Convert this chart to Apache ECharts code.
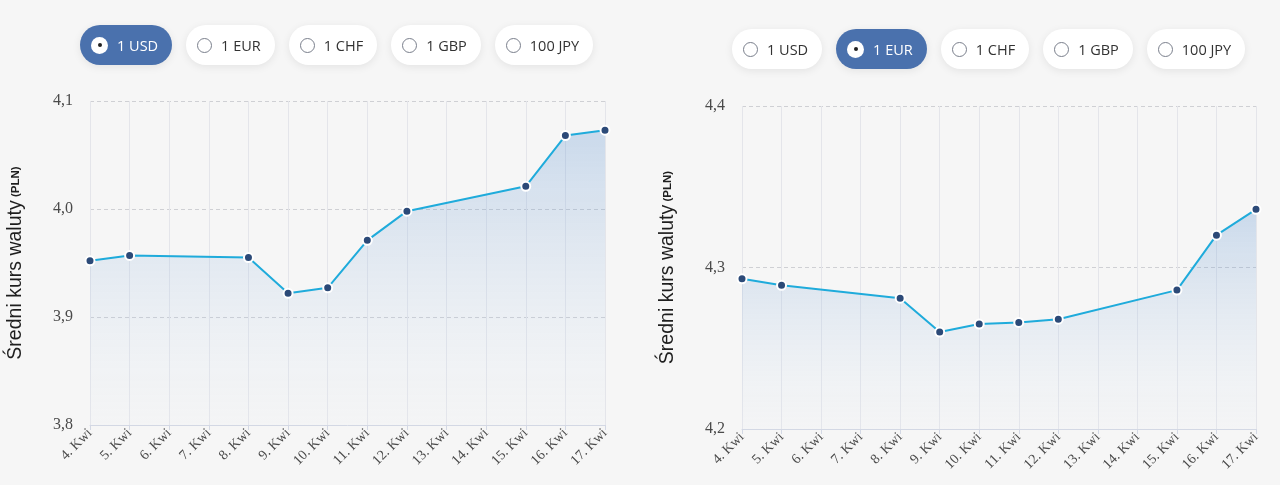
<!DOCTYPE html>
<html>
<head>
<meta charset="utf-8">
<script src="https://cdn.jsdelivr.net/npm/echarts@6/dist/echarts.min.js"></script>
<style>
  html, body { margin: 0; padding: 0; background: #f6f6f6; }
  #wrap { position: relative; width: 1280px; height: 485px; }
  #chart { position: absolute; left: 0; top: 0; width: 1280px; height: 485px; }
  .pills { position: absolute; display: flex; gap: 14px; z-index: 2; }
  .pill {
    height: 40px; border-radius: 20px; background: #fff;
    box-shadow: 0 2px 8px rgba(0, 0, 0, 0.08);
    display: inline-flex; align-items: center; padding: 0 14px 0 11px;
    font-family: "Open Sans", sans-serif; font-size: 14.5px; color: #333;
  }
  .pill .dot {
    width: 15px; height: 15px; border-radius: 50%; border: 1px solid #7a7f8c;
    margin-right: 9px; box-sizing: border-box; background: #fff; position: relative;
  }
  .pill.active { background: #4a71ad; color: #fff; }
  .pill.active .dot { width: 17px; height: 17px; border: none; }
  .pill.active .dot::after {
    content: ""; position: absolute; left: 6.5px; top: 6.5px; width: 4px; height: 4px;
    border-radius: 50%; background: #222;
  }
</style>
</head>
<body>
<div id="wrap">
  <div class="pills" id="pillsLeft" style="left:80px; top:25px;"></div>
  <div class="pills" id="pillsRight" style="left:732px; top:29px;"></div>
  <div id="chart"></div>
</div>
<script>
const currencies = ["1 USD", "1 EUR", "1 CHF", "1 GBP", "100 JPY"];
const days = ["4. Kwi", "5. Kwi", "6. Kwi", "7. Kwi", "8. Kwi", "9. Kwi", "10. Kwi",
  "11. Kwi", "12. Kwi", "13. Kwi", "14. Kwi", "15. Kwi", "16. Kwi", "17. Kwi"];
// weekends have no fixing -> null
const usdRates = [3.952, 3.957, null, null, 3.955, 3.922, 3.927, 3.971, 3.998, null, null, 4.021, 4.068, 4.073];
const eurRates = [4.293, 4.289, null, null, 4.281, 4.260, 4.265, 4.266, 4.268, null, null, 4.286, 4.320, 4.336];

const makePills = (id, active) => {
  const box = document.getElementById(id);
  currencies.forEach((c, i) => {
    const el = document.createElement("div");
    el.className = "pill" + (i === active ? " active" : "");
    el.innerHTML = '<span class="dot"></span><span>' + c + "</span>";
    box.appendChild(el);
  });
};
makePills("pillsLeft", 0);
makePills("pillsRight", 1);

const serif = "Liberation Serif";
const makeAxes = (idx, min, max) => {
  const xAxis = {
    type: "category",
    gridIndex: idx,
    data: days,
    boundaryGap: false,
    axisLine: { lineStyle: { color: "#d3d8e4", width: 1 } },
    axisTick: { show: true, length: 5, lineStyle: { color: "#d3d8e4" } },
    axisLabel: { rotate: 45, color: "#4a4a4a", fontFamily: serif, fontSize: 14, margin: 6, interval: 0 },
    splitLine: { show: true, lineStyle: { color: "#e4e5ea", width: 1 } },
  };
  const yAxis = {
    type: "value",
    gridIndex: idx,
    min: min,
    max: max,
    interval: 0.1,
    axisLine: { show: false },
    axisTick: { show: false },
    axisLabel: {
      color: "#4a4a4a", fontFamily: serif, fontSize: 16, margin: 17,
      formatter: (v) => v.toFixed(1).replace(".", ","),
    },
    splitLine: { lineStyle: { color: "#cfd0d4", type: [4, 3] } },
    name: "{a|Średni kurs waluty} {b|(PLN)}",
    nameLocation: "middle",
    nameRotate: 90,
    nameGap: 64,
    nameTextStyle: {
      rich: {
        a: { fontFamily: "Liberation Sans", fontSize: 19.5, color: "#1e1e1e" },
        b: { fontFamily: "Liberation Sans", fontSize: 11.5, fontWeight: "bold", color: "#1e1e1e" },
      },
    },
  };
  return { xAxis, yAxis };
};

const makeSeries = (idx, values) => ({
  type: "line",
  xAxisIndex: idx,
  yAxisIndex: idx,
  data: values,
  connectNulls: true,
  symbol: "circle",
  symbolSize: 9,
  lineStyle: { color: "#1fabdb", width: 2 },
  itemStyle: { color: "#2c4a78", borderColor: "#fff", borderWidth: 2 },
  areaStyle: {
    origin: "start",
    color: new echarts.graphic.LinearGradient(0, 0, 0, 1, [
      { offset: 0, color: "rgba(60, 125, 200, 0.34)" },
      { offset: 1, color: "rgba(225, 235, 248, 0.1)" },
    ]),
  },
});

const left = makeAxes(0, 3.8, 4.1);
const right = makeAxes(1, 4.2, 4.4);

const myChart = echarts.init(document.getElementById("chart"), null, { renderer: "canvas" });
const option = {
  animation: false,
  grid: [
    { left: 90, top: 101, width: 515, height: 324 },
    { left: 742, top: 106, width: 514, height: 323 },
  ],
  xAxis: [left.xAxis, right.xAxis],
  yAxis: [left.yAxis, right.yAxis],
  series: [makeSeries(0, usdRates), makeSeries(1, eurRates)],
};
myChart.setOption(option);
</script>
</body>
</html>
